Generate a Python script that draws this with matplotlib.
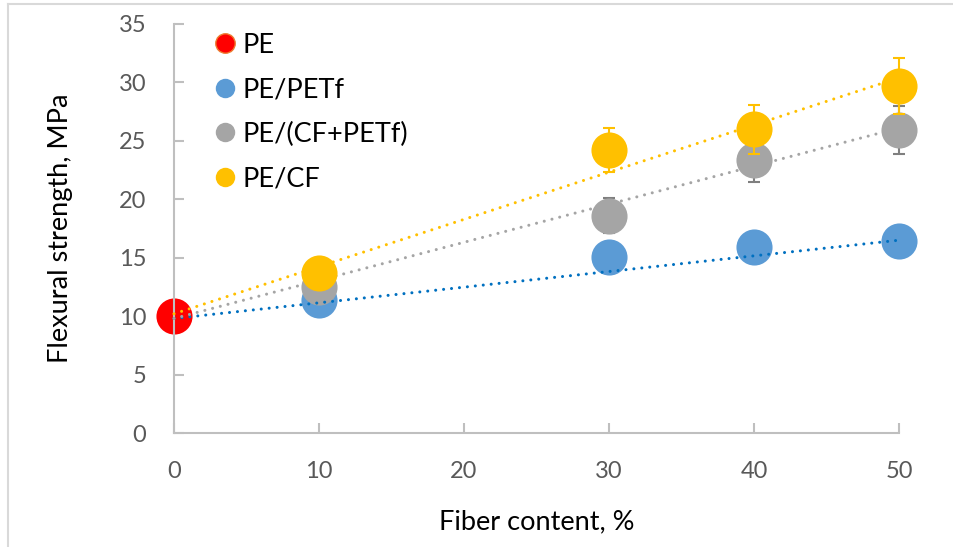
import numpy as np
import matplotlib.pyplot as plt
from matplotlib.lines import Line2D

plt.rcParams['font.family'] = ['Lato', 'DejaVu Sans']

# data
pe_x = [0]
pe_y = [10.0]
petf_x = [10, 30, 40, 50]
petf_y = [11.4, 15.1, 15.9, 16.4]
petf_err = [0.4, 0.5, 0.5, 0.5]
cfpetf_x = [10, 30, 40, 50]
cfpetf_y = [12.5, 18.6, 23.4, 25.9]
cfpetf_err = [0.6, 1.5, 1.9, 2.05]
cf_x = [10, 30, 40, 50]
cf_y = [13.7, 24.2, 26.0, 29.7]
cf_err = [0.7, 1.9, 2.1, 2.4]

# trend lines (values at x=0 and x=50)
trend_x = [0, 50]
petf_trend = [9.8, 16.5]
cfpetf_trend = [9.8, 26.1]
cf_trend = [10.2, 30.4]

xticks = [0, 10, 20, 30, 40, 50]
yticks = [0, 5, 10, 15, 20, 25, 30, 35]

red = '#FF0000'
blue = '#5B9BD5'
gray = '#A5A5A5'
yellow = '#FFC000'
tick_col = '#595959'
axis_col = '#BFBFBF'

fig = plt.figure(figsize=(9.54, 5.47), dpi=100)
ax = fig.add_axes([174/954, 1-433/547, (899-174)/954, (433-24)/547])

ms = 26
dots = (0, (0.01, 2.6))

ax.errorbar(petf_x, petf_y, yerr=petf_err, fmt='o', ms=ms, color=blue, mec='none',
            ecolor=blue, elinewidth=1.5, capsize=4, capthick=1.5, zorder=2)
ax.errorbar(cfpetf_x, cfpetf_y, yerr=cfpetf_err, fmt='o', ms=ms, color=gray, mec='none',
            ecolor='#7F7F7F', elinewidth=1.5, capsize=4, capthick=1.5, zorder=2)
ax.plot(pe_x, pe_y, 'o', ms=ms, color=red, mec='none', zorder=2)

ax.plot(trend_x, petf_trend, color='#0070C0', lw=2.2, ls=dots, dash_capstyle='round', zorder=3)
ax.plot(trend_x, cfpetf_trend, color=gray, lw=2.2, ls=dots, dash_capstyle='round', zorder=3)
ax.plot(trend_x, cf_trend, color=yellow, lw=2.2, ls=dots, dash_capstyle='round', zorder=3)

ax.errorbar(cf_x, cf_y, yerr=cf_err, fmt='o', ms=ms, color=yellow, mec='none',
            ecolor=yellow, elinewidth=1.5, capsize=4, capthick=1.5, zorder=4)

for art in ax.lines + ax.collections:
    art.set_clip_on(False)

ax.set_xlim(0, 50)
ax.set_ylim(0, 35)
ax.set_xticks(xticks)
ax.set_yticks(yticks)
for s in ['top', 'right']:
    ax.spines[s].set_visible(False)
for s in ['left', 'bottom']:
    ax.spines[s].set_color(axis_col)
    ax.spines[s].set_linewidth(1.5)
ax.tick_params(axis='both', direction='in', length=7, width=1.5, color=axis_col,
               labelsize=17, labelcolor=tick_col)
ax.tick_params(axis='x', pad=20)
ax.tick_params(axis='y', pad=20)

ax.set_xlabel('Fiber content, %', fontsize=19.5, labelpad=20)
ax.set_ylabel('Flexural strength, MPa', fontsize=19.5, labelpad=33)

handles = [
    Line2D([], [], marker='o', ls='none', ms=14, color=red, mec='#ED7D31', mew=1),
    Line2D([], [], marker='o', ls='none', ms=14, color=blue, mec='none'),
    Line2D([], [], marker='o', ls='none', ms=14, color=gray, mec='none'),
    Line2D([], [], marker='o', ls='none', ms=14, color=yellow, mec='none'),
]
labels = ['PE', 'PE/PETf', 'PE/(CF+PETf)', 'PE/CF']
ax.legend(handles, labels, loc='upper left', bbox_to_anchor=(195/954, 1-19/547),
          bbox_transform=fig.transFigure, frameon=False, fontsize=19.5,
          handletextpad=0.05, handlelength=1.2, labelspacing=0.72, borderpad=0)

# frame around the chart area (left and top edges are visible)
fig.add_artist(Line2D([8/954, 8/954], [0, 1-4/547], color='#D9D9D9', lw=1.5))
fig.add_artist(Line2D([8/954, 1], [1-4/547, 1-4/547], color='#D9D9D9', lw=1.5))

fig.savefig('out.png', dpi=100)
